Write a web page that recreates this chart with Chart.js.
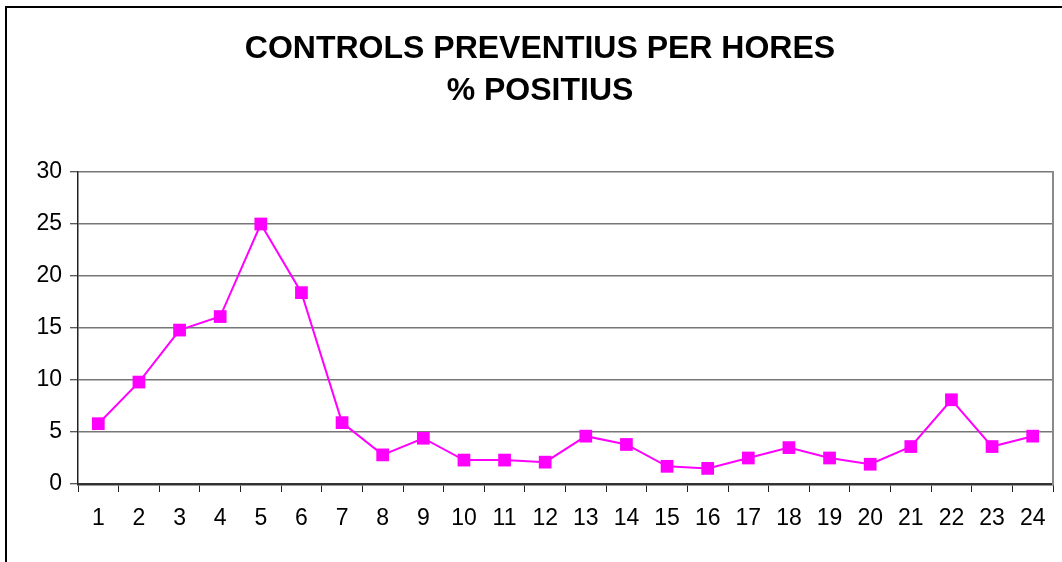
<!DOCTYPE html>
<html>
<head>
<meta charset="utf-8">
<script src="https://cdn.jsdelivr.net/npm/chart.js@4"></script>
<style>
  html, body { margin: 0; padding: 0; background: #fff; overflow: hidden; }
  #frame {
    position: absolute; left: 5px; top: 6px;
    width: 1100px; height: 600px;
    border: 2px solid #000;
  }
  #wrap { position: absolute; left: 0; top: 0; width: 1062px; height: 562px; }
</style>
</head>
<body>
<div id="frame"></div>
<div id="wrap"><canvas id="hoursChart" width="1062" height="562"></canvas></div>
<script>
// Data
const titleLines = ['CONTROLS PREVENTIUS PER HORES', '% POSITIUS'];
const hours = ['1', '2', '3', '4', '5', '6', '7', '8', '9', '10', '11', '12',
  '13', '14', '15', '16', '17', '18', '19', '20', '21', '22', '23', '24'];
const positivePct = [5.8, 9.8, 14.8, 16.1, 25.0, 18.4, 5.9, 2.8, 4.4, 2.3, 2.3, 2.1,
  4.6, 3.8, 1.7, 1.5, 2.5, 3.5, 2.5, 1.9, 3.6, 8.1, 3.6, 4.6];
const yMin = 0;
const yMax = 30;
const yStep = 5;

const fontFamily = '"Liberation Sans", Arial, sans-serif';
const magenta = '#ff00ff';

const ctx = document.getElementById('hoursChart').getContext('2d');
new Chart(ctx, {
  type: 'line',
  data: {
    labels: hours,
    datasets: [
      {
        label: '% positius',
        data: positivePct,
        borderColor: magenta,
        backgroundColor: magenta,
        borderWidth: 2,
        pointStyle: 'rect',
        pointRadius: 9,
        pointBorderWidth: 0,
        tension: 0,
        fill: false,
      },
    ],
  },
  options: {
    responsive: false,
    animation: false,
    layout: { padding: { left: 26, right: 8, top: 0, bottom: 0 } },
    plugins: {
      legend: { display: false },
      tooltip: { enabled: false },
      title: {
        display: true,
        text: titleLines,
        color: '#000',
        font: { family: fontFamily, size: 32, weight: 'bold', lineHeight: 1.3125 },
        padding: { top: 28, bottom: 60 },
      },
    },
    scales: {
      x: {
        offset: true,
        grid: {
          offset: true,
          drawOnChartArea: false,
          drawTicks: true,
          tickLength: 8,
          tickColor: '#222',
          tickWidth: 1,
        },
        border: { display: true, color: '#333', width: 2.5 },
        ticks: {
          color: '#000',
          padding: 13,
          maxRotation: 0,
          autoSkip: false,
          font: { family: fontFamily, size: 23 },
        },
        afterFit: scale => { scale.height = 78; },
      },
      y: {
        min: yMin,
        max: yMax,
        ticks: {
          stepSize: yStep,
          color: '#000',
          padding: 8,
          font: { family: fontFamily, size: 23 },
        },
        grid: {
          color: '#777',
          lineWidth: 1.5,
          drawTicks: true,
          tickLength: 8,
          tickColor: '#222',
          tickWidth: 1,
        },
        border: { display: true, color: '#222', width: 1.5 },
        afterFit: scale => { scale.width = 52; },
      },
      yRight: {
        position: 'right',
        min: yMin,
        max: yMax,
        ticks: { display: false },
        grid: { display: false },
        border: { display: true, color: '#8a8a8a', width: 2 },
        afterFit: scale => { scale.width = 0; },
      },
    },
  },
});
</script>
</body>
</html>
